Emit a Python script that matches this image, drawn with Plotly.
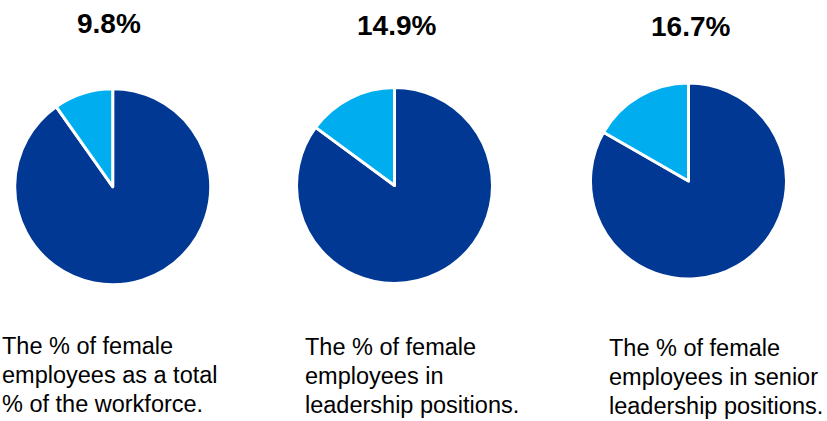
import plotly.graph_objects as go

W, H = 827, 421

labels = ["Male", "Female"]
female_pct = [9.8, 14.9, 16.7]
titles = ["9.8%", "14.9%", "16.7%"]
captions = [
    ["The % of female", "employees as a total", "% of the workforce."],
    ["The % of female", "employees in", "leadership positions."],
    ["The % of female", "employees in senior", "leadership positions."],
]
colors = ["#003893", "#00AEEF"]

# layout (pixels)
centers = [(112.7, 186.7), (394.5, 185.5), (688.5, 181.0)]
radius = 98.0
title_pos = [(109, 23.5), (396, 25.5), (690, 27)]
cap_x = [0.5, 303.5, 608]
cap_base = [354, 355, 356]
pitch = 29

fig = go.Figure()
for i, (cx, cy) in enumerate(centers):
    fig.add_trace(go.Pie(
        labels=labels,
        values=[100 - female_pct[i], female_pct[i]],
        sort=False,
        direction="clockwise",
        rotation=0,
        marker=dict(colors=colors, line=dict(color="white", width=3)),
        textinfo="none",
        hoverinfo="label+percent",
        showlegend=False,
        domain=dict(x=[(cx - radius) / W, (cx + radius) / W],
                    y=[1 - (cy + radius) / H, 1 - (cy - radius) / H]),
    ))

ann = []
for i, t in enumerate(titles):
    tx, ty = title_pos[i]
    ann.append(dict(text=f"<b>{t}</b>", x=tx / W, y=1 - ty / H, xref="paper", yref="paper",
                    xanchor="center", yanchor="middle", showarrow=False,
                    font=dict(family="Liberation Sans, Arial", size=28, color="#000000")))
fs = 23.5
for i, lines in enumerate(captions):
    for j, line in enumerate(lines):
        base = cap_base[i] + j * pitch
        cyy = base - 0.3465 * fs
        ann.append(dict(text=line, x=cap_x[i] / W, y=1 - cyy / H, xref="paper", yref="paper",
                        xanchor="left", yanchor="middle", showarrow=False, borderpad=0,
                        font=dict(family="Liberation Sans, Arial", size=fs, color="#000000")))

fig.update_layout(
    width=W, height=H,
    margin=dict(l=0, r=0, t=0, b=0),
    paper_bgcolor="white", plot_bgcolor="white",
    annotations=ann,
)
fig.write_html("out.html")
